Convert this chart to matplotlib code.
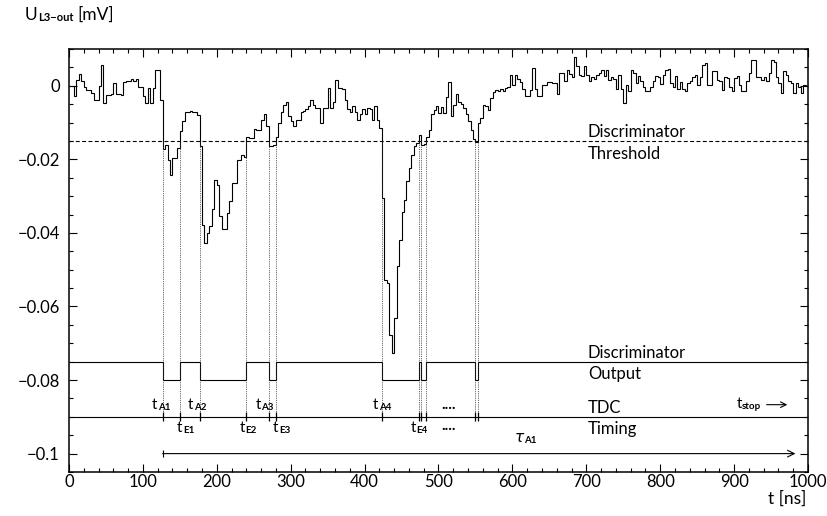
import numpy as np
import matplotlib
matplotlib.use('Agg')
import matplotlib.pyplot as plt
from matplotlib.ticker import MultipleLocator

plt.rcParams['font.family'] = ['Lato', 'DejaVu Sans']
plt.rcParams['font.weight'] = 'normal'
plt.rcParams['font.size'] = 12

# L3 output signal, one value per bin: 300 bins over 0..1000 ns
t_range = (0, 1000)
n_bins = 300
u_out = [
    0.0000, 0.0000, -0.0029, 0.0016, 0.0033, 0.0012, -0.0004, -0.0011, -0.0011, -0.0020,
    -0.0038, -0.0038, 0.0000, 0.0057, -0.0047, -0.0024, -0.0024, -0.0023, 0.0007, -0.0022,
    -0.0022, -0.0024, 0.0009, 0.0012, 0.0012, 0.0018, 0.0012, 0.0018, -0.0004, -0.0004,
    -0.0029, -0.0047, -0.0006, -0.0047, -0.0006, 0.0042, 0.0042, -0.0038, -0.0172, -0.0160,
    -0.0201, -0.0242, -0.0197, -0.0197, -0.0169, -0.0124, -0.0097, -0.0070, -0.0070, -0.0068,
    -0.0070, -0.0070, -0.0079, -0.0163, -0.0378, -0.0428, -0.0399, -0.0380, -0.0335, -0.0257,
    -0.0269, -0.0353, -0.0390, -0.0390, -0.0346, -0.0312, -0.0265, -0.0265, -0.0203, -0.0203,
    -0.0188, -0.0194, -0.0140, -0.0143, -0.0143, -0.0117, -0.0120, -0.0120, -0.0092, -0.0077,
    -0.0110, -0.0163, -0.0163, -0.0160, -0.0139, -0.0101, -0.0070, -0.0052, -0.0045, -0.0083,
    -0.0097, -0.0109, -0.0092, -0.0092, -0.0070, -0.0068, -0.0063, -0.0054, -0.0040, -0.0052,
    -0.0061, -0.0061, -0.0100, -0.0061, -0.0061, -0.0006, -0.0061, -0.0043, 0.0016, -0.0006,
    -0.0006, -0.0010, -0.0038, -0.0063, -0.0070, -0.0055, -0.0070, -0.0092, -0.0076, -0.0063,
    -0.0076, -0.0061, -0.0063, -0.0092, -0.0055, -0.0092, -0.0115, -0.0305, -0.0527, -0.0535,
    -0.0677, -0.0726, -0.0631, -0.0491, -0.0418, -0.0342, -0.0310, -0.0260, -0.0224, -0.0188,
    -0.0165, -0.0155, -0.0135, -0.0160, -0.0158, -0.0140, -0.0121, -0.0076, -0.0065, -0.0054,
    -0.0074, -0.0058, -0.0074, -0.0031, 0.0009, -0.0083, -0.0052, -0.0022, -0.0043, -0.0050,
    -0.0060, -0.0076, -0.0097, -0.0120, -0.0145, -0.0153, -0.0100, -0.0088, -0.0052, -0.0054,
    -0.0067, -0.0034, -0.0018, -0.0011, -0.0015, -0.0009, -0.0015, -0.0006, -0.0004, 0.0030,
    0.0003, 0.0030, 0.0018, 0.0009, -0.0009, -0.0027, -0.0029, -0.0011, 0.0048, -0.0009,
    -0.0029, -0.0027, 0.0003, 0.0003, 0.0009, 0.0009, 0.0007, 0.0007, -0.0022, 0.0036,
    0.0034, 0.0012, 0.0043, 0.0033, 0.0024, 0.0078, 0.0053, 0.0030, 0.0027, 0.0054,
    0.0030, 0.0012, 0.0024, 0.0018, 0.0030, 0.0036, 0.0043, 0.0027, 0.0043, 0.0016,
    0.0025, 0.0018, -0.0009, 0.0030, -0.0009, -0.0047, 0.0003, -0.0015, 0.0043, 0.0036,
    0.0007, 0.0027, 0.0012, -0.0002, -0.0013, -0.0013, -0.0002, 0.0012, 0.0027, 0.0025,
    0.0005, 0.0030, 0.0043, 0.0045, 0.0007, -0.0002, 0.0027, -0.0009, 0.0009, -0.0009,
    -0.0015, 0.0007, 0.0012, 0.0025, 0.0030, 0.0003, 0.0025, 0.0057, 0.0063, 0.0003,
    0.0003, 0.0039, 0.0039, 0.0016, 0.0012, -0.0011, 0.0025, 0.0021, -0.0004, -0.0015,
    0.0021, 0.0027, 0.0003, -0.0015, -0.0015, 0.0012, 0.0034, 0.0071, 0.0071, 0.0025,
    0.0024, 0.0016, 0.0024, 0.0012, 0.0034, 0.0071, 0.0066, 0.0025, 0.0007, -0.0020,
    0.0039, 0.0030, 0.0012, 0.0007, -0.0020, 0.0007, -0.0002, -0.0020, 0.0003, 0.0000,
]

threshold = -0.015
disc_high = -0.075
disc_low = -0.080
tdc_level = -0.090
tau_level = -0.100
tau_end = 983

x_ticks = [0, 100, 200, 300, 400, 500, 600, 700, 800, 900, 1000]
y_ticks = [-0.1, -0.08, -0.06, -0.04, -0.02, 0]
y_tick_labels = ['\u22120.1', '\u22120.08', '\u22120.06', '\u22120.04', '\u22120.02', '0']

# names of the first TDC times, in order of the crossings
tdc_names = ['A1', 'E1', 'A2', 'E2', 'A3', 'E3', 'A4', 'E4']
tdc_label_x = [112, 146, 161, 231, 252, 276, 411, 462]

edges = np.linspace(t_range[0], t_range[1], n_bins + 1)
u = np.array(u_out)
below = u < threshold
disc = np.where(below, disc_low, disc_high)
idx = np.flatnonzero(np.diff(below.astype(int))) + 1
t_cross = edges[idx]

fig = plt.figure(figsize=(8.28, 5.16), dpi=100)
ax = fig.add_axes([69 / 828, 1 - 472 / 516, (808 - 69) / 828, (472 - 49) / 516])

ax.stairs(u, edges, baseline=None, color='k', lw=0.8)
ax.stairs(disc, edges, baseline=None, color='k', lw=0.8)
ax.axhline(threshold, color='k', lw=0.8, ls=(0, (3.5, 2.2)))
ax.axhline(tdc_level, color='k', lw=0.8)

# dotted guides from the threshold down to the TDC line, and the TDC marks
ax.vlines(t_cross, tdc_level, threshold, colors='#333333', lw=0.6,
          linestyles=(0, (1, 1.2)))
ax.vlines(t_cross, tdc_level - 0.0012, tdc_level + 0.0012, colors='k', lw=0.9)

# tau_A1 arrow
ax.annotate('', xy=(tau_end, tau_level), xytext=(t_cross[0], tau_level),
            arrowprops=dict(arrowstyle='->', lw=0.8, color='k', shrinkA=0, shrinkB=0,
                            mutation_scale=12))
ax.vlines(t_cross[0], tau_level - 0.001, tau_level + 0.001, colors='k', lw=0.8)


def sub_label(x, y, main, sub, size=11, subsize=7, transform=None, **kw):
    if transform is None:
        transform = ax.transData
    t = ax.text(x, y, main, fontsize=size, va='baseline', ha='left',
                transform=transform, clip_on=False, **kw)
    s = ax.annotate(sub, xy=(1, 0), xycoords=t, xytext=(0.4, 1.6),
                    textcoords='offset points', fontsize=subsize,
                    va='baseline', ha='left', fontweight='bold',
                    annotation_clip=False)
    return t, s


for name, lx in zip(tdc_names, tdc_label_x):
    ly = -0.0880 if name[0] == 'A' else -0.0942
    sub_label(lx, ly, 't', name)

ax.text(504, -0.0879, '....', fontsize=11, va='baseline', fontweight='bold')
ax.text(504, -0.0937, '....', fontsize=11, va='baseline', fontweight='bold')

sub_label(903, -0.0876, 't', 'stop')
ax.annotate('', xy=(972, -0.0867), xytext=(944, -0.0867),
            arrowprops=dict(arrowstyle='->', lw=0.8, color='k', shrinkA=0, shrinkB=0,
                            mutation_scale=10))

sub_label(603, -0.0969, '\u03c4', 'A1', size=11, family='DejaVu Sans',
          fontstyle='italic')

ax.text(702, -0.0139, 'Discriminator', va='baseline')
ax.text(702, -0.0199, 'Threshold', va='baseline')
ax.text(702, -0.0740, 'Discriminator', va='baseline')
ax.text(702, -0.0797, 'Output', va='baseline')
ax.text(702, -0.0889, 'TDC', va='baseline')
ax.text(702, -0.0948, 'Timing', va='baseline')

ax.set_xlim(t_range)
ax.set_ylim(-0.105, 0.01)
ax.set_xticks(x_ticks)
ax.xaxis.set_minor_locator(MultipleLocator(20))
ax.set_yticks(y_ticks)
ax.set_yticklabels(y_tick_labels)
ax.yaxis.set_minor_locator(MultipleLocator(0.005))
ax.tick_params(which='both', direction='in', top=True, right=True, width=0.8,
               labelsize=12)
ax.tick_params(which='major', length=6)
ax.tick_params(which='minor', length=3)
ax.tick_params(axis='x', pad=1.5)
ax.tick_params(axis='y', pad=6.5)
for s in ax.spines.values():
    s.set_linewidth(1.1)

# axis titles
ut, us = sub_label(25 / 828, 1 - 20 / 516, 'U', 'L3\u2212out', size=12.5, subsize=8,
                   transform=fig.transFigure)
ax.annotate('[mV]', xy=(1, 0), xycoords=(us, ut), xytext=(3, 0),
            textcoords='offset points', fontsize=12.5, va='bottom', ha='left',
            annotation_clip=False)
fig.text(806 / 828, 1 - 504 / 516, 't [ns]', fontsize=12.5, va='baseline', ha='right')

fig.savefig('out.png', dpi=100)
